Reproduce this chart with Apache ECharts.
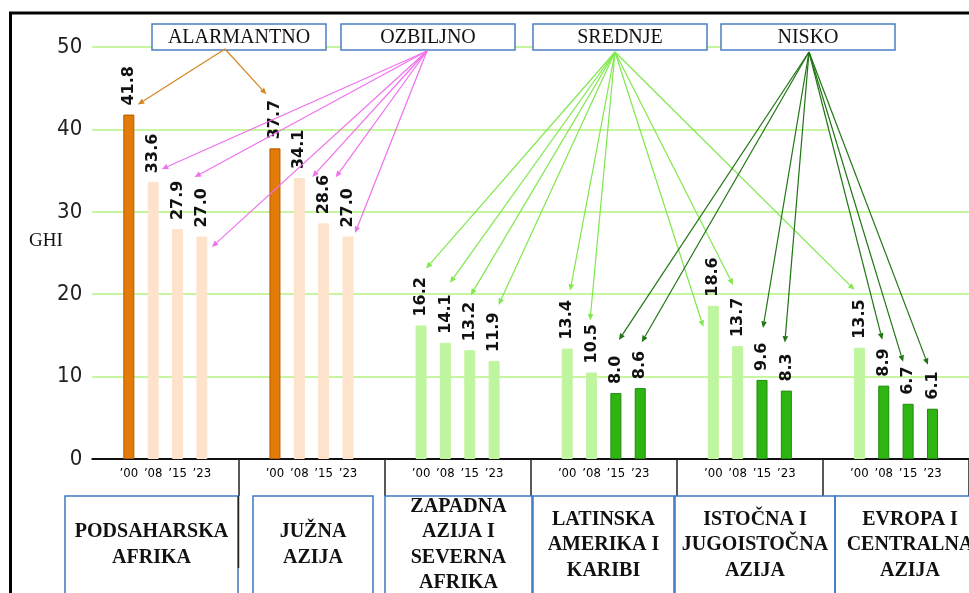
<!DOCTYPE html>
<html><head><meta charset="utf-8">
<script src="https://cdn.jsdelivr.net/npm/echarts@6/dist/echarts.min.js"></script>
<style>html,body{margin:0;padding:0;background:#fff}#c{width:969px;height:593px}</style>
</head><body><div id="c"></div>
<script>
// ---------------- DATA ----------------
const regions = [
  'PODSAHARSKA\nAFRIKA',
  'JUŽNA\nAZIJA',
  'ZAPADNA\nAZIJA I\nSEVERNA\nAFRIKA',
  'LATINSKA\nAMERIKA I\nKARIBI',
  'ISTOČNA I\nJUGOISTOČNA\nAZIJA',
  'EVROPA I\nCENTRALNA\nAZIJA'
];
const years = ['’00', '’08', '’15', '’23'];
const ghi2000 = [41.8, 37.7, 16.2, 13.4, 18.6, 13.5];
const ghi2008 = [33.6, 34.1, 14.1, 10.5, 13.7, 8.9];
const ghi2015 = [27.9, 28.6, 13.2, 8.0, 9.6, 6.7];
const ghi2023 = [27.0, 27.0, 11.9, 8.6, 8.3, 6.1];
const levels = ['ALARMANTNO', 'OZBILJNO', 'SREDNJE', 'NISKO'];
const levelThresholds = [35, 20, 10];   // GHI severity boundaries
const yTicks = [0, 10, 20, 30, 40, 50];
const yName = 'GHI';

// ---------------- STYLE / LAYOUT ----------------
const condensed = "'DejaVu Sans Condensed', 'Liberation Sans Narrow', 'Roboto Condensed', 'Roboto', sans-serif";
const levelFill = ['#e27b08', '#fde3cb', '#c0f59f', '#2fb512'];
const levelBorder = ['#b25a00', '#fde3cb', '#c0f59f', '#1f8a0c'];
const arrowColor = ['#d6861f', '#f070ee', '#7fe84c', '#1f7512'];
const levelBoxes = [[152, 24], [341, 24], [533, 24], [721, 24]]; // left, top
const levelBoxSize = [174, 26];
const arrowOrigins = [[225, 49], [427, 51], [615, 52], [809, 52]];
// arrow tip offsets from bar top-centre, per year row, per region
const tipOffsets = [
  [[9, -10], [-8.5, -54], [5, -57], [3, -58], [-10, 21], [-5, -58]],
  [[8.5, -13], [13, -1], [4.5, -60], [-1.5, -52], [-4.5, -61], [-1.5, -46]],
  [[17, -52], [12, -46], [1, -55], [3, -53], [1, -52], [-5, -42]],
  [[10, 10.5], [7, -3.5], [4.5, -56], [1.5, -46], [-1.5, -48], [-4.5, -44]]
];
const regionBoxes = [[65, 238], [253, 373], [385, 532], [533, 674], [675, 835], [835, 985]];
const regionBoxTop = 496;

const SLOTS = 6;
const yearSeries = [ghi2000, ghi2008, ghi2015, ghi2023];
function levelOf(v) {
  for (let i = 0; i < levelThresholds.length; i++) if (v >= levelThresholds[i]) return i;
  return levelThresholds.length;
}

const cats = [], barData = [];
regions.forEach((r, ri) => {
  for (let s = 0; s < SLOTS; s++) {
    cats.push('r' + ri + 's' + s);
    if (s >= 1 && s <= years.length) {
      const v = yearSeries[s - 1][ri];
      const lv = levelOf(v);
      barData.push({ value: v, itemStyle: { color: levelFill[lv], borderColor: levelBorder[lv], borderWidth: 1 } });
    } else barData.push('-');
  }
});

const chart = echarts.init(document.getElementById('c'), null, { renderer: 'canvas' });
chart.setOption({
  animation: false,
  backgroundColor: '#fff',
  grid: { left: 92.3, top: 47, width: 880, height: 412 },
  xAxis: {
    type: 'category', data: cats,
    axisLine: { lineStyle: { color: '#111', width: 2 } },
    axisTick: { show: true, interval: (i) => i > 0 && i % SLOTS === 0, length: 37, lineStyle: { color: '#222', width: 1.5 } },
    axisLabel: {
      interval: 0, margin: 8, color: '#000', fontFamily: condensed, fontSize: 13,
      formatter: (v, i) => { const s = i % SLOTS; return (s >= 1 && s <= years.length) ? years[s - 1] : ''; }
    },
    splitLine: { show: false }
  },
  yAxis: {
    type: 'value', min: yTicks[0], max: yTicks[yTicks.length - 1], interval: yTicks[1] - yTicks[0],
    axisLine: { show: false }, axisTick: { show: false },
    axisLabel: { margin: 10, color: '#222', fontFamily: condensed, fontSize: 22 },
    splitLine: { lineStyle: { color: '#c8f5a0', width: 2 } }
  },
  series: [{
    type: 'bar', data: barData, barWidth: 11, z: 2,
    label: {
      show: true, position: 'top', distance: 9, rotate: 90, align: 'left', verticalAlign: 'middle',
      fontFamily: 'DejaVu Sans', fontWeight: 'bold', fontSize: 16, color: '#111',
      formatter: (p) => Number(p.value).toFixed(1)
    }
  }]
});

// ---------------- ANNOTATIONS ----------------
const g = [];
// mask: the 40 / 50 gridlines stop short of the right edge
g.push({ type: 'rect', z: 1, silent: true, shape: { x: 829, y: 30, width: 150, height: 110 }, style: { fill: '#fff' } });

// y axis title
g.push({ type: 'text', z: 21, style: { text: yName, x: 46, y: 241, align: 'center', verticalAlign: 'middle',
  fontFamily: 'Liberation Serif', fontSize: 19, fill: '#111' } });

// level boxes
levels.forEach((t, i) => {
  const [x, y] = levelBoxes[i];
  g.push({ type: 'rect', z: 20, shape: { x: x, y: y, width: levelBoxSize[0], height: levelBoxSize[1] },
    style: { fill: '#fff', stroke: '#4a7fc1', lineWidth: 1.5 } });
  g.push({ type: 'text', z: 21, style: { text: t, x: x + levelBoxSize[0] / 2, y: y + levelBoxSize[1] / 2 + 1,
    align: 'center', verticalAlign: 'middle', fontFamily: 'Liberation Serif', fontSize: 20, fill: '#111' } });
});

// arrows
function arrow(o, t, col) {
  const dx = t[0] - o[0], dy = t[1] - o[1], L = Math.hypot(dx, dy), ux = dx / L, uy = dy / L;
  const hl = 6.5, hw = 2.8;
  const bx = t[0] - ux * hl, by = t[1] - uy * hl;
  g.push({ type: 'line', z: 22, silent: true, shape: { x1: o[0], y1: o[1], x2: bx, y2: by }, style: { stroke: col, lineWidth: 1.2 } });
  g.push({ type: 'polygon', z: 22, silent: true, shape: { points: [[t[0], t[1]], [bx - uy * hw, by + ux * hw], [bx + uy * hw, by - ux * hw]] }, style: { fill: col } });
}
yearSeries.forEach((arr, yi) => {
  arr.forEach((v, ri) => {
    const lv = levelOf(v);
    const slot = ri * SLOTS + 1 + yi;
    const p = chart.convertToPixel({ gridIndex: 0 }, [slot, v]);
    const off = tipOffsets[yi][ri];
    arrow(arrowOrigins[lv], [p[0] + off[0], p[1] + off[1]], arrowColor[lv]);
  });
});

// region boxes
regions.forEach((t, i) => {
  const [x1, x2] = regionBoxes[i];
  g.push({ type: 'rect', z: 20, shape: { x: x1, y: regionBoxTop, width: x2 - x1, height: 140 },
    style: { fill: 'none', stroke: '#3c78c3', lineWidth: 1.5 } });
  g.push({ type: 'text', z: 21, style: { text: t, x: (x1 + x2) / 2, y: 545, align: 'center', verticalAlign: 'middle',
    fontFamily: 'Liberation Serif', fontWeight: 'bold', fontSize: 20, lineHeight: 25.5, fill: '#111' } });
});
// first separator continues down the box edge
g.push({ type: 'line', z: 21, silent: true, shape: { x1: 238.5, y1: 496, x2: 238.5, y2: 568 }, style: { stroke: '#222', lineWidth: 1.5 } });

// outer frame
g.push({ type: 'rect', z: 30, silent: true, shape: { x: 10.5, y: 13, width: 1000, height: 640 }, style: { fill: 'none', stroke: '#000', lineWidth: 3 } });

chart.setOption({ graphic: g });
</script>
</body></html>
